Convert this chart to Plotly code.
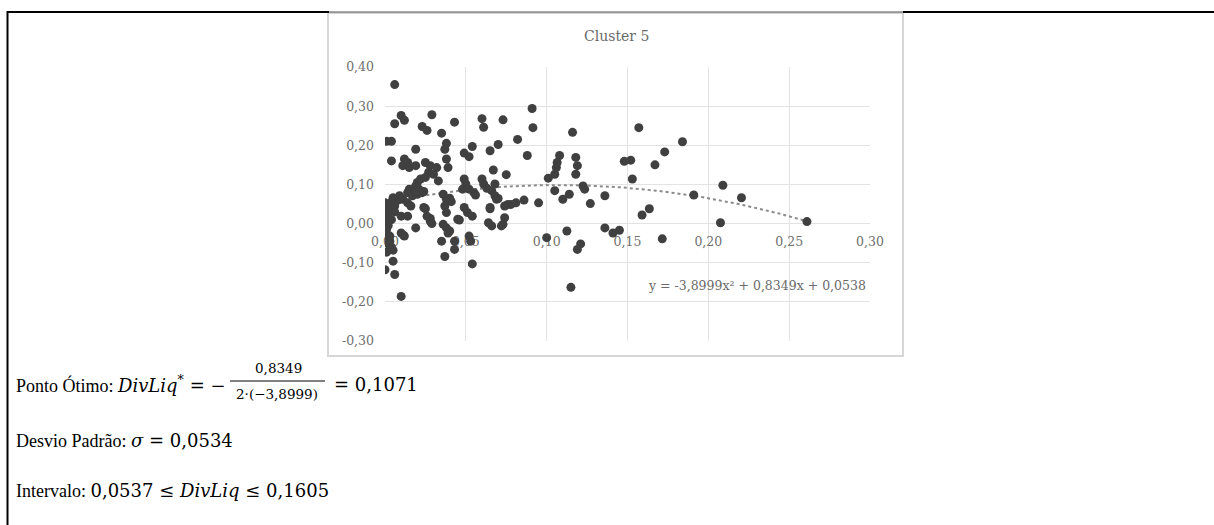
import plotly.graph_objects as go

# ---------------- data ----------------
div_liq = [
    0.006, 0.001, 0.004, 0.010, 0.012, 0.006, 0.029, 0.023, 0.026, 0.043,
    0.035, 0.038, 0.037, 0.060, 0.061, 0.019, 0.054, 0.049, 0.052, 0.065,
    0.070, 0.073, 0.082, 0.088, 0.091, 0.0915, 0.004, 0.012, 0.014, 0.011,
    0.015, 0.019, 0.025, 0.028, 0.032, 0.038, 0.039, 0.116, 0.108, 0.1065,
    0.118, 0.119, 0.148, 0.152, 0.157, 0.167, 0.173, 0.184,
    0.106, 0.105, 0.101, 0.118, 0.153, 0.067, 0.075, 0.027, 0.030, 0.025,
    0.022, 0.020, 0.033, 0.049, 0.050, 0.052, 0.055, 0.048, 0.060, 0.061,
    0.066, 0.068, 0.069, 0.068, 0.074, 0.078, 0.081, 0.086, 0.095, 0.076,
    0.105, 0.110, 0.114, 0.1225, 0.1235, 0.127, 0.136, 0.191, 0.209, 0.2205,
    0.005, 0.007, 0.009, 0.011, 0.014, 0.015, 0.017, 0.014, 0.016, 0.019,
    0.021, 0.023, 0.036, 0.038, 0.037, 0.038, 0.000, 0.001, 0.000, 0.002,
    0.000, 0.003, 0.004,
    0.001, 0.000, 0.001, 0.003, 0.003, 0.004, 0.005, 0.001, 0.010, 0.014,
    0.024, 0.026, 0.028, 0.045, 0.049, 0.051, 0.054, 0.036, 0.038, 0.040,
    0.039, 0.019, 0.010, 0.012, 0.035, 0.043, 0.052, 0.053, 0.065, 0.064,
    0.066, 0.074, 0.073, 0.072, 0.100, 0.1125, 0.121, 0.119, 0.136, 0.141,
    0.145, 0.159, 0.1635, 0.1715, 0.2075, 0.261, 0.0115, 0.028, 0.029, 0.025,
    0.046, 0.065, 0.002, 0.006, 0.004, 0.002, 0.003, 0.006, 0.008,
    0.005, 0.000, 0.006, 0.010, 0.037, 0.043, 0.054, 0.115,
    0.040, 0.056, 0.063, 0.070, 0.041, 0.020, 0.024, 0.016,
]
ret = [
    0.355, 0.210, 0.210, 0.276, 0.264, 0.255, 0.278, 0.248, 0.238, 0.259,
    0.231, 0.205, 0.190, 0.268, 0.246, 0.190, 0.197, 0.180, 0.171, 0.186,
    0.202, 0.265, 0.215, 0.174, 0.294, 0.245, 0.160, 0.165, 0.156, 0.148,
    0.143, 0.148, 0.156, 0.148, 0.143, 0.165, 0.143, 0.233, 0.174, 0.156,
    0.169, 0.148, 0.159, 0.162, 0.245, 0.150, 0.183, 0.209,
    0.143, 0.126, 0.116, 0.126, 0.114, 0.137, 0.125, 0.131, 0.126, 0.118,
    0.114, 0.105, 0.109, 0.114, 0.101, 0.088, 0.079, 0.088, 0.114, 0.101,
    0.084, 0.071, 0.062, 0.101, 0.045, 0.049, 0.053, 0.060, 0.053, 0.049,
    0.084, 0.062, 0.075, 0.096, 0.088, 0.051, 0.071, 0.073, 0.098, 0.066,
    0.066, 0.058, 0.071, 0.062, 0.079, 0.088, 0.071, 0.053, 0.045, 0.096,
    0.088, 0.079, 0.075, 0.062, 0.045, 0.028, 0.053, 0.041, 0.028, 0.019,
    0.002, 0.047, 0.055,
    -0.015, -0.032, -0.049, -0.032, -0.058, -0.060, -0.068, -0.073, 0.019, 0.019,
    0.041, 0.019, 0.006, 0.011, 0.041, 0.028, 0.019, -0.002, -0.011, -0.019,
    -0.024, -0.011, -0.024, -0.032, -0.045, -0.045, -0.032, -0.045, 0.041, 0.002,
    -0.006, 0.015, -0.002, -0.006, -0.036, -0.019, -0.052, -0.066, -0.011, -0.024,
    -0.017, 0.022, 0.038, -0.039, 0.002, 0.005, -0.030, 0.013, 0.000, 0.038,
    0.009, 0.038, 0.035, 0.045, 0.010, -0.005, -0.045, 0.030, 0.060,
    -0.096, -0.118, -0.130, -0.186, -0.084, -0.066, -0.103, -0.163,
    0.065, 0.073, 0.090, 0.064, 0.056, 0.075, 0.082, 0.080,
]

# trendline coefficients (as printed on the chart)
coef_a, coef_b, coef_c = -3.8999, 0.8349, 0.0538
trend_x_max = 0.262

x_ticks = [0.00, 0.05, 0.10, 0.15, 0.20, 0.25, 0.30]
x_tick_labels = ["0,00", "0,05", "0,10", "0,15", "0,20", "0,25", "0,30"]
y_ticks = [-0.30, -0.20, -0.10, 0.00, 0.10, 0.20, 0.30, 0.40]
y_tick_labels = ["-0,30", "-0,20", "-0,10", "0,00", "0,10", "0,20", "0,30", "0,40"]

chart_title = "Cluster 5"
equation_text = "y = -3,8999x² + 0,8349x + 0,0538"

# ---------------- layout helpers (pixel -> paper) ----------------
W, H = 1214, 525
def px(x):
    return x / W
def py(y):
    return 1 - y / H

PLOT_L, PLOT_R, PLOT_T, PLOT_B = 385, 870, 67, 341
Y_MIN, Y_MAX = -0.30, 0.40
zero_pix = PLOT_T + (Y_MAX - 0) / (Y_MAX - Y_MIN) * (PLOT_B - PLOT_T)

n_trend = 120
trend_x = [trend_x_max * i / (n_trend - 1) for i in range(n_trend)]
trend_y = [coef_a * t * t + coef_b * t + coef_c for t in trend_x]

fig = go.Figure()
fig.add_trace(go.Scatter(
    x=trend_x, y=trend_y, mode="lines",
    line=dict(color="#8a8a8a", width=2, dash="dot"),
    hoverinfo="skip", showlegend=False,
))
fig.add_trace(go.Scatter(
    x=div_liq, y=ret, mode="markers",
    marker=dict(color="#404040", size=9, line=dict(width=0)),
    showlegend=False,
))

SERIF = "Liberation Serif"
CHART_FONT = "DejaVu Serif"
MATH = "DejaVu Serif"
tick_font = dict(family=CHART_FONT, size=12.5, color="#707070")

fig.update_layout(
    width=W, height=H, autosize=False,
    margin=dict(l=0, r=0, t=0, b=0),
    paper_bgcolor="white", plot_bgcolor="white",
    showlegend=False,
    xaxis=dict(
        domain=[px(PLOT_L), px(PLOT_R)], range=[0, 0.30],
        anchor="free", position=py(zero_pix),
        tickvals=x_ticks, ticktext=x_tick_labels, tickfont=tick_font,
        showgrid=True, gridcolor="#e3e3e3", gridwidth=1,
        zeroline=False, showline=False, ticks="", layer="below traces",
        ticklabelstandoff=9, automargin=False, fixedrange=True,
    ),
    yaxis=dict(
        domain=[py(PLOT_B), py(PLOT_T)], range=[Y_MIN, Y_MAX],
        tickvals=y_ticks, ticktext=y_tick_labels, tickfont=tick_font,
        showgrid=True, gridcolor="#e3e3e3", gridwidth=1,
        zeroline=False, showline=False, ticks="", layer="below traces",
        ticklabelstandoff=10, automargin=False, fixedrange=True,
    ),
)

shapes = [
    # embedded chart image border
    dict(type="rect", xref="paper", yref="paper",
         x0=px(328), x1=px(903), y0=py(356), y1=py(13),
         line=dict(color="#d6d6d6", width=2), layer="below"),
    # document table borders (top line interrupted by the chart image)
    dict(type="line", xref="paper", yref="paper",
         x0=px(7), x1=px(329), y0=py(12), y1=py(12),
         line=dict(color="black", width=2)),
    dict(type="line", xref="paper", yref="paper",
         x0=px(329), x1=px(903), y0=py(12), y1=py(12),
         line=dict(color="#555555", width=1)),
    dict(type="line", xref="paper", yref="paper",
         x0=px(903), x1=px(1214), y0=py(12), y1=py(12),
         line=dict(color="black", width=2)),
    dict(type="line", xref="paper", yref="paper",
         x0=px(7.5), x1=px(7.5), y0=py(11), y1=py(525),
         line=dict(color="black", width=2)),
    # fraction bar
    dict(type="line", xref="paper", yref="paper",
         x0=px(230), x1=px(325), y0=py(381), y1=py(381),
         line=dict(color="black", width=1)),
]
fig.update_layout(shapes=shapes)

def ann(text, x, y, size, family=SERIF, color="black", xanchor="left"):
    return dict(text=text, x=px(x), y=py(y), xref="paper", yref="paper",
                xanchor=xanchor, yanchor="middle", showarrow=False,
                font=dict(family=family, size=size, color=color))

M = "<span style='font-family:DejaVu Serif'>"
annotations = [
    ann(chart_title, 616, 36, 14, family=CHART_FONT, color="#6a6a6a", xanchor="center"),
    ann(equation_text, 757, 285, 12.5, family=CHART_FONT, color="#6a6a6a", xanchor="center"),
    # text lines below the chart
    ann("Ponto Ótimo: " + M + "<i>DivLiq</i><sup>*</sup> = −</span>", 14, 384, 18),
    ann("0,8349", 278, 368, 13.5, family=MATH, xanchor="center"),
    ann("2·(−3,8999)", 277, 394, 13.5, family=MATH, xanchor="center"),
    ann("= 0,1071", 332, 384, 18, family=MATH),
    ann("Desvio Padrão: " + M + "<i>σ</i> = 0,0534</span>", 14, 440, 18),
    ann("Intervalo: " + M + "0,0537 ≤ <i>DivLiq</i> ≤ 0,1605</span>", 14, 490, 18),
]
fig.update_layout(annotations=annotations)

fig.write_html("out.html", config={"displayModeBar": False},
               post_script="document.body.style.margin='0';")
